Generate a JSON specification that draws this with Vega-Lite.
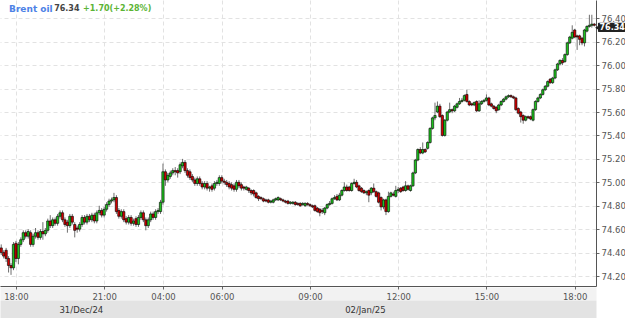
{
"$schema": "https://vega.github.io/schema/vega-lite/v6.json",
"width": 596, "height": 286,
"autosize": {"type": "none"},
"padding": {"left": 0, "top": 0, "right": 29, "bottom": 32},
"background": "white",
"config": {"view": {"stroke": null}, "font": "DejaVu Sans", "axis": {"labelOverlap": false, "labelSeparation": -30}},
"datasets": {
"candles": [
{"n":0,"o":74.44,"h":74.47,"l":74.38,"c":74.40},
{"n":1,"o":74.40,"h":74.42,"l":74.35,"c":74.37},
{"n":2,"o":74.42,"h":74.44,"l":74.32,"c":74.35},
{"n":3,"o":74.35,"h":74.37,"l":74.23,"c":74.29},
{"n":4,"o":74.29,"h":74.31,"l":74.21,"c":74.27},
{"n":5,"o":74.27,"h":74.49,"l":74.25,"c":74.47},
{"n":6,"o":74.48,"h":74.50,"l":74.32,"c":74.35},
{"n":7,"o":74.35,"h":74.49,"l":74.30,"c":74.47},
{"n":8,"o":74.47,"h":74.53,"l":74.45,"c":74.51},
{"n":9,"o":74.51,"h":74.59,"l":74.49,"c":74.57},
{"n":10,"o":74.57,"h":74.59,"l":74.52,"c":74.54},
{"n":11,"o":74.54,"h":74.60,"l":74.52,"c":74.58},
{"n":12,"o":74.57,"h":74.59,"l":74.45,"c":74.47},
{"n":13,"o":74.47,"h":74.56,"l":74.45,"c":74.54},
{"n":14,"o":74.54,"h":74.61,"l":74.52,"c":74.57},
{"n":15,"o":74.57,"h":74.59,"l":74.51,"c":74.53},
{"n":16,"o":74.53,"h":74.60,"l":74.51,"c":74.58},
{"n":17,"o":74.58,"h":74.66,"l":74.51,"c":74.56},
{"n":18,"o":74.56,"h":74.61,"l":74.54,"c":74.59},
{"n":19,"o":74.59,"h":74.69,"l":74.57,"c":74.67},
{"n":20,"o":74.67,"h":74.72,"l":74.61,"c":74.63},
{"n":21,"o":74.63,"h":74.70,"l":74.61,"c":74.68},
{"n":22,"o":74.68,"h":74.70,"l":74.63,"c":74.65},
{"n":23,"o":74.65,"h":74.73,"l":74.63,"c":74.71},
{"n":24,"o":74.71,"h":74.76,"l":74.69,"c":74.74},
{"n":25,"o":74.74,"h":74.76,"l":74.66,"c":74.68},
{"n":26,"o":74.68,"h":74.70,"l":74.62,"c":74.64},
{"n":27,"o":74.66,"h":74.68,"l":74.57,"c":74.63},
{"n":28,"o":74.63,"h":74.73,"l":74.61,"c":74.71},
{"n":29,"o":74.71,"h":74.73,"l":74.64,"c":74.66},
{"n":30,"o":74.64,"h":74.66,"l":74.53,"c":74.59},
{"n":31,"o":74.61,"h":74.63,"l":74.57,"c":74.60},
{"n":32,"o":74.60,"h":74.66,"l":74.58,"c":74.64},
{"n":33,"o":74.64,"h":74.72,"l":74.62,"c":74.70},
{"n":34,"o":74.70,"h":74.72,"l":74.64,"c":74.66},
{"n":35,"o":74.66,"h":74.73,"l":74.64,"c":74.71},
{"n":36,"o":74.71,"h":74.73,"l":74.66,"c":74.68},
{"n":37,"o":74.68,"h":74.74,"l":74.66,"c":74.72},
{"n":38,"o":74.72,"h":74.74,"l":74.65,"c":74.67},
{"n":39,"o":74.67,"h":74.76,"l":74.65,"c":74.74},
{"n":40,"o":74.74,"h":74.80,"l":74.72,"c":74.76},
{"n":41,"o":74.76,"h":74.78,"l":74.70,"c":74.72},
{"n":42,"o":74.72,"h":74.79,"l":74.70,"c":74.77},
{"n":43,"o":74.77,"h":74.83,"l":74.75,"c":74.81},
{"n":44,"o":74.81,"h":74.86,"l":74.79,"c":74.84},
{"n":45,"o":74.84,"h":74.87,"l":74.82,"c":74.85},
{"n":46,"o":74.85,"h":74.91,"l":74.83,"c":74.87},
{"n":47,"o":74.87,"h":74.89,"l":74.73,"c":74.75},
{"n":48,"o":74.76,"h":74.78,"l":74.69,"c":74.71},
{"n":49,"o":74.71,"h":74.77,"l":74.69,"c":74.75},
{"n":50,"o":74.75,"h":74.77,"l":74.66,"c":74.68},
{"n":51,"o":74.69,"h":74.71,"l":74.64,"c":74.66},
{"n":52,"o":74.66,"h":74.72,"l":74.64,"c":74.70},
{"n":53,"o":74.70,"h":74.72,"l":74.63,"c":74.65},
{"n":54,"o":74.65,"h":74.69,"l":74.63,"c":74.67},
{"n":55,"o":74.69,"h":74.71,"l":74.62,"c":74.64},
{"n":56,"o":74.64,"h":74.72,"l":74.62,"c":74.70},
{"n":57,"o":74.70,"h":74.76,"l":74.68,"c":74.74},
{"n":58,"o":74.74,"h":74.76,"l":74.66,"c":74.68},
{"n":59,"o":74.68,"h":74.70,"l":74.59,"c":74.63},
{"n":60,"o":74.63,"h":74.70,"l":74.61,"c":74.68},
{"n":61,"o":74.68,"h":74.75,"l":74.66,"c":74.73},
{"n":62,"o":74.73,"h":74.75,"l":74.68,"c":74.70},
{"n":63,"o":74.70,"h":74.77,"l":74.68,"c":74.75},
{"n":64,"o":74.75,"h":74.78,"l":74.73,"c":74.76},
{"n":65,"o":74.75,"h":74.85,"l":74.73,"c":74.83},
{"n":66,"o":74.83,"h":75.16,"l":74.81,"c":75.09},
{"n":67,"o":75.09,"h":75.11,"l":74.97,"c":75.02},
{"n":68,"o":75.02,"h":75.08,"l":75.00,"c":75.06},
{"n":69,"o":75.05,"h":75.10,"l":75.03,"c":75.08},
{"n":70,"o":75.08,"h":75.12,"l":75.06,"c":75.10},
{"n":71,"o":75.10,"h":75.13,"l":75.06,"c":75.09},
{"n":72,"o":75.10,"h":75.12,"l":75.04,"c":75.08},
{"n":73,"o":75.09,"h":75.17,"l":75.07,"c":75.15},
{"n":74,"o":75.14,"h":75.20,"l":75.12,"c":75.17},
{"n":75,"o":75.17,"h":75.19,"l":75.08,"c":75.10},
{"n":76,"o":75.10,"h":75.12,"l":75.04,"c":75.06},
{"n":77,"o":75.09,"h":75.11,"l":75.02,"c":75.04},
{"n":78,"o":75.05,"h":75.07,"l":75.00,"c":75.02},
{"n":79,"o":75.02,"h":75.04,"l":74.97,"c":74.99},
{"n":80,"o":74.99,"h":75.05,"l":74.97,"c":75.03},
{"n":81,"o":75.03,"h":75.05,"l":74.97,"c":74.99},
{"n":82,"o":74.99,"h":75.01,"l":74.94,"c":74.96},
{"n":83,"o":74.96,"h":75.01,"l":74.94,"c":74.99},
{"n":84,"o":74.99,"h":75.01,"l":74.93,"c":74.95},
{"n":85,"o":74.95,"h":74.97,"l":74.92,"c":74.96},
{"n":86,"o":74.97,"h":74.99,"l":74.92,"c":74.94},
{"n":87,"o":74.95,"h":75.01,"l":74.93,"c":74.99},
{"n":88,"o":74.99,"h":75.02,"l":74.97,"c":75.00},
{"n":89,"o":74.99,"h":75.06,"l":74.97,"c":75.04},
{"n":90,"o":75.04,"h":75.06,"l":74.99,"c":75.01},
{"n":91,"o":75.01,"h":75.03,"l":74.98,"c":75.00},
{"n":92,"o":75.00,"h":75.02,"l":74.96,"c":74.98},
{"n":93,"o":74.99,"h":75.01,"l":74.94,"c":74.96},
{"n":94,"o":74.98,"h":75.00,"l":74.93,"c":74.95},
{"n":95,"o":74.97,"h":74.99,"l":74.92,"c":74.94},
{"n":96,"o":74.94,"h":75.02,"l":74.92,"c":75.00},
{"n":97,"o":75.00,"h":75.02,"l":74.95,"c":74.97},
{"n":98,"o":74.98,"h":75.00,"l":74.93,"c":74.95},
{"n":99,"o":74.96,"h":74.97,"l":74.93,"c":74.95},
{"n":100,"o":74.94,"h":74.97,"l":74.93,"c":74.96},
{"n":101,"o":74.95,"h":74.96,"l":74.91,"c":74.93},
{"n":102,"o":74.93,"h":74.94,"l":74.89,"c":74.91},
{"n":103,"o":74.93,"h":74.94,"l":74.88,"c":74.90},
{"n":104,"o":74.91,"h":74.92,"l":74.86,"c":74.87},
{"n":105,"o":74.88,"h":74.89,"l":74.84,"c":74.86},
{"n":106,"o":74.87,"h":74.88,"l":74.85,"c":74.86},
{"n":107,"o":74.86,"h":74.87,"l":74.83,"c":74.84},
{"n":108,"o":74.85,"h":74.86,"l":74.83,"c":74.84},
{"n":109,"o":74.85,"h":74.86,"l":74.82,"c":74.83},
{"n":110,"o":74.83,"h":74.85,"l":74.82,"c":74.84},
{"n":111,"o":74.83,"h":74.86,"l":74.82,"c":74.85},
{"n":112,"o":74.85,"h":74.87,"l":74.84,"c":74.86},
{"n":113,"o":74.85,"h":74.88,"l":74.84,"c":74.87},
{"n":114,"o":74.86,"h":74.87,"l":74.84,"c":74.85},
{"n":115,"o":74.85,"h":74.86,"l":74.83,"c":74.84},
{"n":116,"o":74.84,"h":74.85,"l":74.82,"c":74.83},
{"n":117,"o":74.84,"h":74.85,"l":74.81,"c":74.82},
{"n":118,"o":74.82,"h":74.84,"l":74.81,"c":74.83},
{"n":119,"o":74.82,"h":74.84,"l":74.81,"c":74.83},
{"n":120,"o":74.83,"h":74.84,"l":74.80,"c":74.81},
{"n":121,"o":74.82,"h":74.83,"l":74.80,"c":74.81},
{"n":122,"o":74.82,"h":74.83,"l":74.79,"c":74.80},
{"n":123,"o":74.81,"h":74.83,"l":74.80,"c":74.82},
{"n":124,"o":74.80,"h":74.83,"l":74.79,"c":74.82},
{"n":125,"o":74.82,"h":74.83,"l":74.80,"c":74.81},
{"n":126,"o":74.81,"h":74.82,"l":74.79,"c":74.80},
{"n":127,"o":74.80,"h":74.81,"l":74.78,"c":74.79},
{"n":128,"o":74.80,"h":74.81,"l":74.75,"c":74.76},
{"n":129,"o":74.78,"h":74.79,"l":74.74,"c":74.75},
{"n":130,"o":74.77,"h":74.78,"l":74.71,"c":74.74},
{"n":131,"o":74.76,"h":74.78,"l":74.73,"c":74.75},
{"n":132,"o":74.74,"h":74.79,"l":74.72,"c":74.78},
{"n":133,"o":74.78,"h":74.82,"l":74.77,"c":74.81},
{"n":134,"o":74.81,"h":74.84,"l":74.80,"c":74.82},
{"n":135,"o":74.82,"h":74.87,"l":74.81,"c":74.86},
{"n":136,"o":74.86,"h":74.89,"l":74.85,"c":74.87},
{"n":137,"o":74.88,"h":74.90,"l":74.84,"c":74.85},
{"n":138,"o":74.85,"h":74.91,"l":74.84,"c":74.89},
{"n":139,"o":74.89,"h":74.94,"l":74.88,"c":74.93},
{"n":140,"o":74.93,"h":75.00,"l":74.92,"c":74.96},
{"n":141,"o":74.96,"h":74.98,"l":74.92,"c":74.93},
{"n":142,"o":74.96,"h":74.97,"l":74.92,"c":74.93},
{"n":143,"o":74.93,"h":75.00,"l":74.92,"c":74.99},
{"n":144,"o":74.99,"h":75.03,"l":74.98,"c":75.00},
{"n":145,"o":75.00,"h":75.02,"l":74.95,"c":74.96},
{"n":146,"o":74.97,"h":74.98,"l":74.92,"c":74.93},
{"n":147,"o":74.95,"h":74.96,"l":74.91,"c":74.92},
{"n":148,"o":74.93,"h":74.94,"l":74.90,"c":74.91},
{"n":149,"o":74.91,"h":74.93,"l":74.89,"c":74.92},
{"n":150,"o":74.93,"h":74.94,"l":74.83,"c":74.89},
{"n":151,"o":74.91,"h":74.96,"l":74.89,"c":74.95},
{"n":152,"o":74.95,"h":74.99,"l":74.91,"c":74.92},
{"n":153,"o":74.92,"h":74.93,"l":74.87,"c":74.88},
{"n":154,"o":74.91,"h":74.92,"l":74.82,"c":74.83},
{"n":155,"o":74.87,"h":74.88,"l":74.76,"c":74.79},
{"n":156,"o":74.79,"h":74.86,"l":74.77,"c":74.85},
{"n":157,"o":74.85,"h":74.86,"l":74.72,"c":74.75},
{"n":158,"o":74.75,"h":74.92,"l":74.74,"c":74.88},
{"n":159,"o":74.88,"h":74.92,"l":74.87,"c":74.91},
{"n":160,"o":74.90,"h":74.92,"l":74.88,"c":74.89},
{"n":161,"o":74.88,"h":74.97,"l":74.87,"c":74.93},
{"n":162,"o":74.93,"h":74.96,"l":74.91,"c":74.94},
{"n":163,"o":74.95,"h":74.96,"l":74.91,"c":74.92},
{"n":164,"o":74.96,"h":74.97,"l":74.92,"c":74.93},
{"n":165,"o":74.93,"h":75.01,"l":74.92,"c":74.97},
{"n":166,"o":74.97,"h":74.98,"l":74.93,"c":74.94},
{"n":167,"o":74.93,"h":74.98,"l":74.92,"c":74.97},
{"n":168,"o":74.97,"h":75.09,"l":74.96,"c":75.08},
{"n":169,"o":75.08,"h":75.20,"l":75.07,"c":75.19},
{"n":170,"o":75.19,"h":75.29,"l":75.18,"c":75.28},
{"n":171,"o":75.28,"h":75.30,"l":75.24,"c":75.25},
{"n":172,"o":75.25,"h":75.34,"l":75.24,"c":75.28},
{"n":173,"o":75.28,"h":75.29,"l":75.25,"c":75.26},
{"n":174,"o":75.29,"h":75.35,"l":75.28,"c":75.34},
{"n":175,"o":75.34,"h":75.47,"l":75.33,"c":75.46},
{"n":176,"o":75.46,"h":75.56,"l":75.45,"c":75.55},
{"n":177,"o":75.55,"h":75.68,"l":75.53,"c":75.57},
{"n":178,"o":75.60,"h":75.69,"l":75.59,"c":75.65},
{"n":179,"o":75.65,"h":75.67,"l":75.55,"c":75.56},
{"n":180,"o":75.57,"h":75.58,"l":75.39,"c":75.40},
{"n":181,"o":75.40,"h":75.54,"l":75.39,"c":75.53},
{"n":182,"o":75.53,"h":75.61,"l":75.52,"c":75.60},
{"n":183,"o":75.60,"h":75.68,"l":75.59,"c":75.62},
{"n":184,"o":75.62,"h":75.63,"l":75.59,"c":75.61},
{"n":185,"o":75.61,"h":75.66,"l":75.60,"c":75.65},
{"n":186,"o":75.64,"h":75.68,"l":75.63,"c":75.67},
{"n":187,"o":75.67,"h":75.72,"l":75.66,"c":75.69},
{"n":188,"o":75.69,"h":75.72,"l":75.68,"c":75.70},
{"n":189,"o":75.70,"h":75.75,"l":75.69,"c":75.74},
{"n":190,"o":75.75,"h":75.79,"l":75.68,"c":75.69},
{"n":191,"o":75.69,"h":75.70,"l":75.65,"c":75.66},
{"n":192,"o":75.67,"h":75.68,"l":75.65,"c":75.66},
{"n":193,"o":75.66,"h":75.69,"l":75.65,"c":75.68},
{"n":194,"o":75.69,"h":75.70,"l":75.60,"c":75.61},
{"n":195,"o":75.61,"h":75.70,"l":75.60,"c":75.67},
{"n":196,"o":75.67,"h":75.70,"l":75.66,"c":75.69},
{"n":197,"o":75.69,"h":75.71,"l":75.68,"c":75.70},
{"n":198,"o":75.70,"h":75.75,"l":75.69,"c":75.72},
{"n":199,"o":75.72,"h":75.73,"l":75.65,"c":75.66},
{"n":200,"o":75.67,"h":75.68,"l":75.64,"c":75.65},
{"n":201,"o":75.65,"h":75.66,"l":75.62,"c":75.63},
{"n":202,"o":75.64,"h":75.65,"l":75.59,"c":75.61},
{"n":203,"o":75.62,"h":75.67,"l":75.61,"c":75.66},
{"n":204,"o":75.66,"h":75.70,"l":75.65,"c":75.69},
{"n":205,"o":75.69,"h":75.72,"l":75.68,"c":75.71},
{"n":206,"o":75.71,"h":75.74,"l":75.70,"c":75.73},
{"n":207,"o":75.73,"h":75.75,"l":75.72,"c":75.74},
{"n":208,"o":75.74,"h":75.75,"l":75.72,"c":75.73},
{"n":209,"o":75.73,"h":75.74,"l":75.71,"c":75.72},
{"n":210,"o":75.72,"h":75.73,"l":75.61,"c":75.62},
{"n":211,"o":75.63,"h":75.64,"l":75.58,"c":75.59},
{"n":212,"o":75.60,"h":75.61,"l":75.51,"c":75.56},
{"n":213,"o":75.57,"h":75.58,"l":75.50,"c":75.53},
{"n":214,"o":75.53,"h":75.57,"l":75.52,"c":75.56},
{"n":215,"o":75.56,"h":75.57,"l":75.54,"c":75.55},
{"n":216,"o":75.56,"h":75.57,"l":75.53,"c":75.54},
{"n":217,"o":75.53,"h":75.63,"l":75.52,"c":75.62},
{"n":218,"o":75.62,"h":75.70,"l":75.61,"c":75.69},
{"n":219,"o":75.69,"h":75.73,"l":75.68,"c":75.72},
{"n":220,"o":75.72,"h":75.76,"l":75.71,"c":75.75},
{"n":221,"o":75.75,"h":75.80,"l":75.74,"c":75.79},
{"n":222,"o":75.79,"h":75.83,"l":75.78,"c":75.82},
{"n":223,"o":75.82,"h":75.87,"l":75.81,"c":75.86},
{"n":224,"o":75.88,"h":75.89,"l":75.84,"c":75.85},
{"n":225,"o":75.85,"h":75.90,"l":75.84,"c":75.89},
{"n":226,"o":75.89,"h":75.97,"l":75.88,"c":75.96},
{"n":227,"o":75.96,"h":76.02,"l":75.95,"c":76.01},
{"n":228,"o":76.01,"h":76.05,"l":76.00,"c":76.04},
{"n":229,"o":76.04,"h":76.06,"l":76.00,"c":76.02},
{"n":230,"o":76.03,"h":76.10,"l":76.02,"c":76.09},
{"n":231,"o":76.09,"h":76.20,"l":76.08,"c":76.19},
{"n":232,"o":76.19,"h":76.25,"l":76.18,"c":76.24},
{"n":233,"o":76.23,"h":76.34,"l":76.22,"c":76.28},
{"n":234,"o":76.30,"h":76.31,"l":76.23,"c":76.24},
{"n":235,"o":76.25,"h":76.26,"l":76.13,"c":76.24},
{"n":236,"o":76.25,"h":76.26,"l":76.17,"c":76.22},
{"n":237,"o":76.23,"h":76.24,"l":76.17,"c":76.19},
{"n":238,"o":76.19,"h":76.31,"l":76.16,"c":76.30},
{"n":239,"o":76.29,"h":76.34,"l":76.28,"c":76.33},
{"n":240,"o":76.33,"h":76.43,"l":76.32,"c":76.34},
{"n":241,"o":76.34,"h":76.43,"l":76.32,"c":76.35},
{"n":242,"o":76.35,"h":76.36,"l":76.33,"c":76.34}
],
"name": [{"n":3.2,"p":76.475,"t":"Brent oil"}],
"quote": [
{"n":21.6,"p":76.475,"t":"76.34","k":"last"},
{"n":33.4,"p":76.475,"t":"+1.70(+2.28%)","k":"chg"}
],
"tag": [{"n1":243.5,"n2":254.6,"nt":249.3,"na":243.3,"p":76.32,"p1":76.282,"p2":76.362,"t":"76.34"}]
},
"layer": [
{
"data": {"values": [{"n": 0}]},
"mark": {"type": "rule", "opacity": 0},
"encoding": {
"x": {"field": "n", "type": "quantitative",
"scale": {"domain": [-0.5, 242.7], "nice": false, "zero": false, "padding": 0},
"axis": {"orient": "bottom", "offset": 7.5, "domainWidth": 13, "domainColor": "#f2f2f2", "ticks": false, "labels": false, "grid": false, "title": null, "values": []}}
}
},
{
"data": {"values": [{"n": 0}]},
"mark": {"type": "rule", "opacity": 0},
"encoding": {
"x": {"field": "n", "type": "quantitative",
"scale": {"domain": [-0.5, 242.7], "nice": false, "zero": false, "padding": 0},
"axis": {"orient": "bottom", "offset": 23, "domainWidth": 18, "domainColor": "#e3e3e3", "ticks": false, "labels": false, "grid": false, "title": null, "values": []}}
}
},
{
"data": {"values": [{"n": 0}]},
"mark": {"type": "rule", "opacity": 0},
"encoding": {
"x": {"field": "n", "type": "quantitative",
"scale": {"domain": [-0.5, 242.7], "nice": false, "zero": false, "padding": 0},
"axis": {"orient": "bottom", "offset": 23, "domain": false, "ticks": false, "grid": false, "title": null,
"values": [32.5, 148.4],
"labelExpr": "datum.value < 100 ? '31/Dec/24' : '02/Jan/25'",
"labelFontSize": 8.5, "labelColor": "#333", "labelBaseline": "middle", "labelPadding": 0, "labelFlush": false, "labelOverlap": false}}
}
},
{
"layer": [
{
"data": {"name": "candles"},
"mark": {"type": "rule", "color": "#6e6e6e", "strokeWidth": 1},
"encoding": {
"x": {"field": "n", "type": "quantitative",
"scale": {"domain": [-0.5, 242.7], "nice": false, "zero": false, "padding": 0},
"axis": {"orient": "bottom", "title": null,
"values": [6, 42, 66, 90, 126, 162, 198, 234],
"labelExpr": "datum.value == 6 ? '18:00' : datum.value == 42 ? '21:00' : datum.value == 66 ? '04:00' : datum.value == 90 ? '06:00' : datum.value == 126 ? '09:00' : datum.value == 162 ? '12:00' : datum.value == 198 ? '15:00' : '18:00'",
"labelFontSize": 8.5, "labelColor": "#555", "labelPadding": 3, "labelFlush": false, "labelOverlap": false,
"tickSize": 3, "tickColor": "#666", "domainColor": "#555",
"grid": true, "gridColor": "#e2e2e2", "gridDash": [4, 3]}},
"y": {"field": "l", "type": "quantitative",
"scale": {"domain": [74.115, 76.556], "nice": false, "zero": false, "padding": 0},
"axis": {"orient": "right", "title": null, "tickCount": 12,
"values": [74.2, 74.4, 74.6, 74.8, 75.0, 75.2, 75.4, 75.6, 75.8, 76.0, 76.2, 76.4],
"format": ".2f", "labelFontSize": 8.5, "labelColor": "#555", "labelPadding": 2, "labelOverlap": false, "labelSeparation": -30, "labelBound": false,
"tickSize": 3, "tickColor": "#666", "domainColor": "#555",
"grid": true, "gridColor": "#e2e2e2", "gridDash": [4, 3]}},
"y2": {"field": "h"}
}
},
{
"data": {"name": "candles"},
"mark": {"type": "bar", "size": 2.3, "stroke": "#000", "strokeWidth": 0.6},
"encoding": {
"x": {"field": "n", "type": "quantitative"},
"y": {"field": "o", "type": "quantitative",
"axis": {"orient": "right", "title": null, "tickCount": 12,
"values": [74.2, 74.4, 74.6, 74.8, 75.0, 75.2, 75.4, 75.6, 75.8, 76.0, 76.2, 76.4],
"format": ".2f", "labelFontSize": 8.5, "labelColor": "#555", "labelPadding": 2, "labelOverlap": false, "labelSeparation": -30, "labelBound": false,
"tickSize": 3, "tickColor": "#666", "domainColor": "#555",
"grid": true, "gridColor": "#e2e2e2", "gridDash": [4, 3]}},
"y2": {"field": "c"},
"color": {"condition": {"test": "datum.c >= datum.o", "value": "#1ec21e"}, "value": "#d10000"}
}
},
{
"data": {"name": "name"},
"mark": {"type": "text", "align": "left", "baseline": "middle", "fontSize": 9, "fontWeight": "bold", "color": "#4d82e6"},
"encoding": {
"x": {"field": "n", "type": "quantitative"},
"y": {"field": "p", "type": "quantitative"},
"text": {"field": "t"}
}
},
{
"data": {"name": "quote"},
"mark": {"type": "text", "align": "left", "baseline": "middle", "fontSize": 8, "fontWeight": "bold"},
"encoding": {
"x": {"field": "n", "type": "quantitative"},
"y": {"field": "p", "type": "quantitative"},
"text": {"field": "t"},
"color": {"field": "k", "type": "nominal", "scale": {"domain": ["last", "chg"], "range": ["#444444", "#5bb435"]}, "legend": null}
}
},
{
"data": {"name": "tag"},
"mark": {"type": "bar", "color": "#222", "cornerRadius": 1},
"encoding": {
"x": {"field": "n1", "type": "quantitative"},
"x2": {"field": "n2"},
"y": {"field": "p1", "type": "quantitative"},
"y2": {"field": "p2"}
}
},
{
"data": {"name": "tag"},
"mark": {"type": "point", "shape": "triangle-left", "filled": true, "color": "#222", "size": 30, "opacity": 1},
"encoding": {
"x": {"field": "na", "type": "quantitative"},
"y": {"field": "p", "type": "quantitative"}
}
},
{
"data": {"name": "tag"},
"mark": {"type": "text", "align": "center", "baseline": "middle", "fontSize": 8, "color": "white", "fontWeight": "bold"},
"encoding": {
"x": {"field": "nt", "type": "quantitative"},
"y": {"field": "p", "type": "quantitative"},
"text": {"field": "t"}
}
}
]
}
],
"resolve": {"scale": {"x": "independent"}, "axis": {"x": "independent"}}
}
